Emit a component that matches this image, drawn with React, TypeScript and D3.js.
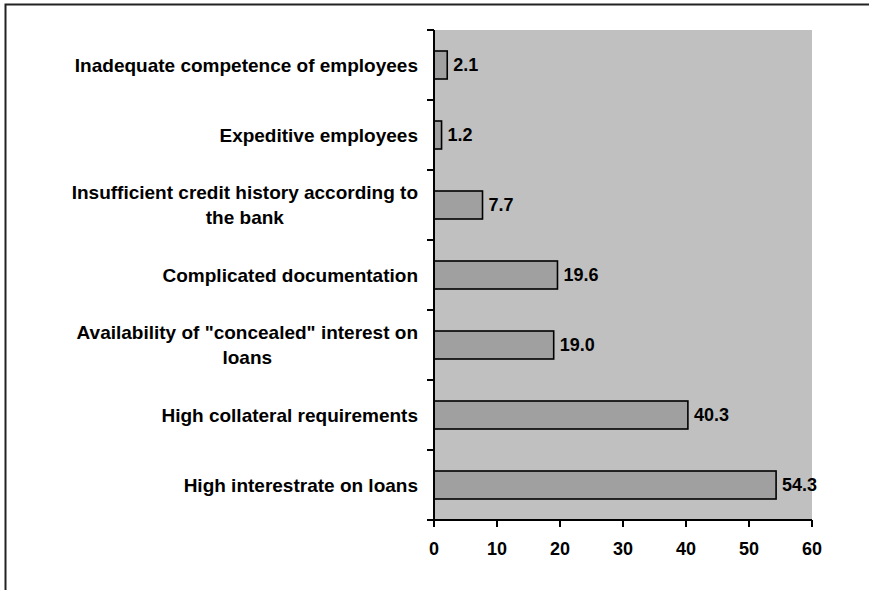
import React from "react";
import * as d3 from "d3";

const categories: string[][] = [
  ["Inadequate competence of employees"],
  ["Expeditive employees"],
  ["Insufficient credit history according to", "the bank"],
  ["Complicated documentation"],
  ["Availability of \"concealed\" interest on", "loans"],
  ["High collateral requirements"],
  ["High interestrate on loans"],
];
const values: number[] = [2.1, 1.2, 7.7, 19.6, 19.0, 40.3, 54.3];
const xTicks: number[] = [0, 10, 20, 30, 40, 50, 60];

const W = 869;
const H = 590;
const plot = { left: 434, right: 812, top: 30, bottom: 520 };
const FONT = "'Liberation Sans', Arial, Helvetica, sans-serif";

export default function App() {
  const keys = categories.map((_, i) => String(i));
  const x = d3.scaleLinear().domain([0, 60]).range([plot.left, plot.right]);
  const y = d3.scaleBand<string>().domain(keys).range([plot.top, plot.bottom]).paddingInner(0.6).paddingOuter(0.3);
  const yb = d3.scaleBand<string>().domain(keys).range([plot.top, plot.bottom]);
  const bounds = d3.range(categories.length + 1).map((i) => plot.top + i * yb.step());

  return (
    <svg width={W} height={H} style={{ position: "absolute", left: 0, top: 0 }} fontFamily={FONT}>
      <rect x={0} y={0} width={W} height={H} fill="#fff" />
      <rect x={5.5} y={4.5} width={W + 20} height={H + 20} fill="none" stroke="#222" strokeWidth={2} />
      <rect x={plot.left} y={plot.top} width={plot.right - plot.left} height={plot.bottom - plot.top} fill="#c0c0c0" />
      {values.map((v, i) => (
        <rect
          key={"b" + i}
          x={x(0)}
          y={y(String(i))!}
          width={x(v) - x(0)}
          height={y.bandwidth()}
          fill="#a0a0a0"
          stroke="#000"
          strokeWidth={1.6}
        />
      ))}
      {values.map((v, i) => (
        <text
          key={"v" + i}
          x={x(v) + 6}
          y={y(String(i))! + y.bandwidth() / 2}
          dy="0.36em"
          fontSize={18}
          fontWeight="bold"
          fill="#000"
        >
          {v.toFixed(1)}
        </text>
      ))}
      {/* y axis */}
      <line x1={plot.left} x2={plot.left} y1={plot.top} y2={plot.bottom} stroke="#000" strokeWidth={2} />
      {bounds.map((b, i) => (
        <line key={"yt" + i} x1={plot.left - 7} x2={plot.left} y1={b} y2={b} stroke="#000" strokeWidth={2} />
      ))}
      {/* x axis */}
      <line x1={plot.left - 7} x2={plot.right} y1={plot.bottom} y2={plot.bottom} stroke="#000" strokeWidth={2} />
      {xTicks.map((t) => (
        <g key={"xt" + t}>
          <line x1={x(t)} x2={x(t)} y1={plot.bottom} y2={plot.bottom + 7} stroke="#000" strokeWidth={2} />
          <text x={x(t)} y={plot.bottom + 35} textAnchor="middle" fontSize={18} fontWeight="bold" fill="#000">
            {t}
          </text>
        </g>
      ))}
      {/* category labels */}
      {categories.map((lines, i) => {
        const cy = yb(String(i))! + yb.bandwidth() / 2;
        const lh = 25;
        const fs = 19;
        // measure approximate widths to right-align block and center lines
        return (
          <CategoryLabel key={"c" + i} lines={lines} cy={cy} lh={lh} fs={fs} right={418} />
        );
      })}
    </svg>
  );
}

function CategoryLabel({ lines, cy, lh, fs, right }: { lines: string[]; cy: number; lh: number; fs: number; right: number }) {
  const ref = React.useRef<SVGGElement>(null);
  const [widths, setWidths] = React.useState<number[] | null>(null);
  React.useLayoutEffect(() => {
    if (!ref.current) return;
    const ts = Array.from(ref.current.querySelectorAll("text")) as SVGTextElement[];
    setWidths(ts.map((t) => t.getComputedTextLength()));
  }, []);
  const maxW = widths ? Math.max(...widths) : 0;
  const center = right - maxW / 2;
  const n = lines.length;
  return (
    <g ref={ref}>
      {lines.map((l, j) => (
        <text
          key={j}
          x={widths ? center : right}
          y={cy + (j - (n - 1) / 2) * lh}
          dy="0.36em"
          textAnchor={widths ? "middle" : "end"}
          fontSize={fs}
          fontWeight="bold"
          fill="#000"
        >
          {l}
        </text>
      ))}
    </g>
  );
}
